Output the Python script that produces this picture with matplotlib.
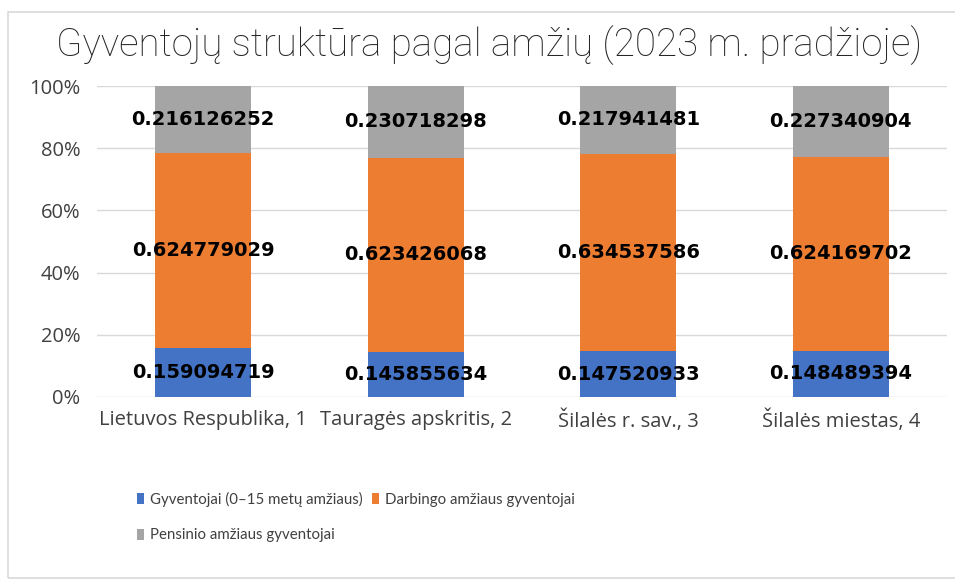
import matplotlib
matplotlib.use("Agg")
import matplotlib.pyplot as plt
from matplotlib.patches import Rectangle
import numpy as np

categories = ["Lietuvos Respublika, 1", "Tauragės apskritis, 2", "Šilalės r. sav., 3", "Šilalės miestas, 4"]
young = [0.159094719, 0.145855634, 0.147520933, 0.148489394]
working = [0.624779029, 0.623426068, 0.634537586, 0.624169702]
pension = [0.216126252, 0.230718298, 0.217941481, 0.227340904]
series_names = ["Gyventojai (0–15 metų amžiaus)", "Darbingo amžiaus gyventojai", "Pensinio amžiaus gyventojai"]
colors = ["#4472C4", "#ED7D31", "#A5A5A5"]
yticks = [0, 0.2, 0.4, 0.6, 0.8, 1.0]
ytick_labels = ["0%", "20%", "40%", "60%", "80%", "100%"]

plt.rcParams['font.family'] = ['Open Sans', 'DejaVu Sans']

W, H = 955, 580
fig = plt.figure(figsize=(W/100, H/100), dpi=100)
fig.patches.append(Rectangle((8/W, 2/H), 1.2, (H-14)/H, transform=fig.transFigure,
                             fill=False, edgecolor="#d9d9d9", linewidth=1.2))

ax = fig.add_axes([97/W, 1-397/H, 850/W, (397-86)/H])
x = np.arange(len(categories))
bottom = np.zeros(len(categories))
handles = []
for vals, name, c in zip([young, working, pension], series_names, colors):
    vals = np.array(vals)
    b = ax.bar(x, vals, 0.45, bottom=bottom, color=c, label=name, zorder=2)
    handles.append(b)
    for xi, v, bt in zip(x, vals, bottom):
        ax.text(xi, bt + v/2, f"{v}", ha="center", va="center",
                fontsize=14, fontweight="bold", color="black", family=['DejaVu Sans'], zorder=3)
    bottom = bottom + vals

ax.set_xlim(-0.5, len(categories)-0.5)
ax.set_ylim(0, 1.0)
ax.set_yticks(yticks)
ax.set_yticklabels(ytick_labels)
ax.set_xticks(x)
ax.set_xticklabels(categories)
ax.grid(axis="y", color="#d9d9d9", linewidth=1, zorder=0)
for s in ax.spines.values():
    s.set_visible(False)
ax.tick_params(axis="both", length=0, labelsize=14.5, colors="#404040")
ax.tick_params(axis="y", pad=12)
ax.tick_params(axis="x", pad=9)

title = fig.text(489/W, 1-45/H, "Gyventojų struktūra pagal amžių (2023 m. pradžioje)", ha="center", va="center",
                 fontsize=27.7, fontweight="light", color="#262626", family=['Roboto', 'DejaVu Sans'])

leg = fig.legend([handles[0], handles[2], handles[1]], [series_names[0], series_names[2], series_names[1]],
                 ncol=2, loc="upper left", bbox_to_anchor=(123/W, 1-478/H), frameon=False,
                 prop={'family': ['Lato', 'DejaVu Sans'], 'size': 10.8},
                 handlelength=0.5, handleheight=0.75, handletextpad=0.4,
                 columnspacing=0.6, labelspacing=1.45, labelcolor="#404040")

fig.savefig("out.png", dpi=100)
